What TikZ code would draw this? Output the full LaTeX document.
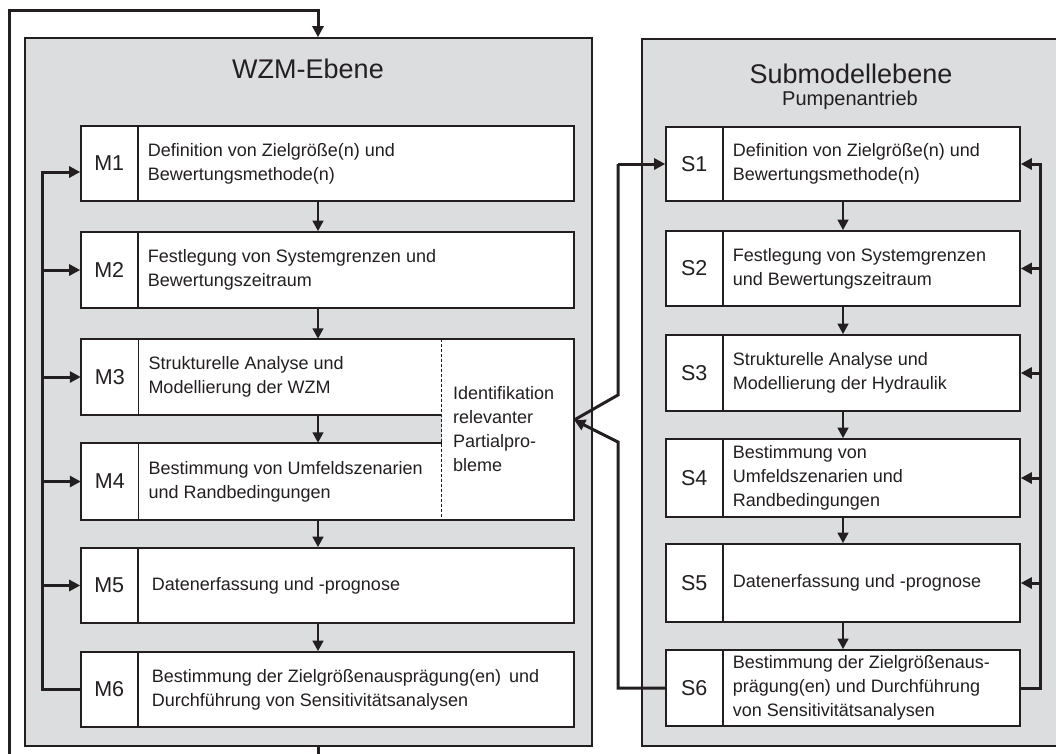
\documentclass[tikz,border=0pt]{standalone}
\usepackage{fontspec}
\setmainfont{Liberation Sans}
\usetikzlibrary{arrows.meta}
\definecolor{ink}{HTML}{231F20}
\definecolor{panelgray}{HTML}{DCDDDF}
\tikzset{
 panelbox/.style={draw=ink, fill=panelgray, line width=1.6pt, inner sep=0pt},
 pbox/.style={draw=ink, fill=white, line width=1.6pt, inner sep=0pt},
 pboxopen/.style={draw=none, fill=white, inner sep=0pt},
 boxline/.style={draw=ink, line width=1.6pt},
 lbl/.style={text=ink, font=\fontsize{21.5}{26}\selectfont, inner sep=0pt},
 txt/.style={text=ink, font=\fontsize{18}{24}\selectfont, align=left, inner sep=0pt, anchor=west},
 ttl/.style={text=ink, inner sep=0pt, anchor=base},
 flow/.style={draw=ink, line width=2.9pt, -{Triangle[length=10.5pt,width=10.5pt]}},
 fbarr/.style={draw=ink, line width=3pt, -{Triangle[length=11pt,width=11pt]}},
}
% [style] name label xl xr yt yb text
\newcommand\procbox[8][pbox]{%
 \node[#1, minimum width={#5-#4}, minimum height={#7-#6}] (#2) at ({(#4+#5)/2},{(#6+#7)/2}) {};
 \draw[boxline] ([xshift=57.5pt]#2.north west) -- ([xshift=57.5pt]#2.south west);
 \node[lbl] (#2l) at ([xshift=29pt]#2.west) {#3};
 \node[txt] (#2t) at ([xshift=67.5pt]#2.west) {#8};
}
\begin{document}
\begin{tikzpicture}[x=1pt,y=-1pt]
\useasboundingbox (0,0) rectangle (1056,753);
\clip (0,0) rectangle (1056,753);

% panels
\node[panelbox, minimum width=567, minimum height=708] (WZM) at (308.5,392) {};
\node[panelbox, minimum width=418, minimum height=707] (SUB) at (851,392.5) {};
\node[ttl, font=\fontsize{27}{32}\selectfont] (wzmT) at (308,78) {WZM-Ebene};
\node[ttl, font=\fontsize{27}{32}\selectfont] (subT) at (851,83) {Submodellebene};
\node[ttl, font=\fontsize{20}{24}\selectfont] (subP) at (850,105) {Pumpenantrieb};

% WZM boxes
\procbox{M1}{M1}{81}{574}{126}{201}{Definition von Zielgröße(n) und\\Bewertungsmethode(n)}
\procbox{M2}{M2}{81}{574}{232}{308}{Festlegung von Systemgrenzen und\\Bewertungszeitraum}
\node[pboxopen, minimum width=132, minimum height=181] (ID) at (508,429.5) {};
\procbox[pboxopen]{M3}{M3}{81}{442}{339}{415}{Strukturelle Analyse und\\Modellierung der WZM}
\procbox[pboxopen]{M4}{M4}{81}{442}{443}{520}{Bestimmung von Umfeldszenarien\\und Randbedingungen}
\draw[boxline] (M3.north east) -- (M3.north west) -- (M3.south west) -- (M3.south east);
\draw[boxline] (M4.north east) -- (M4.north west) -- (M4.south west) -- (M4.south east);
\draw[boxline] (ID.north west) -- (ID.north east) -- (ID.south east) -- (ID.south west);
\draw[draw=ink, line width=1.1pt, dash pattern=on 3pt off 2pt] (ID.north west) -- (ID.south west);
\node[txt] (IDt) at ([xshift=11pt]ID.west) {Identifikation\\relevanter\\Partialpro-\\bleme};
\procbox{M5}{M5}{81}{574}{548}{623}{\hspace{4pt}Datenerfassung und -prognose}
\procbox{M6}{M6}{81}{574}{652}{727}{\hspace{4pt}Bestimmung der Zielgrößenausprägung(en) \,und\\\hspace{4pt}Durchführung von Sensitivitätsanalysen}

% Submodel boxes
\procbox{S1}{S1}{666}{1020}{127}{201}{Definition von Zielgröße(n) und\\Bewertungsmethode(n)}
\procbox{S2}{S2}{666}{1020}{231}{306}{Festlegung von Systemgrenzen\\und Bewertungszeitraum}
\procbox{S3}{S3}{666}{1020}{335}{411}{Strukturelle Analyse und\\Modellierung der Hydraulik}
\procbox{S4}{S4}{666}{1020}{439}{517}{Bestimmung von\\Umfeldszenarien und\\Randbedingungen}
\procbox{S5}{S5}{666}{1020}{544}{622}{Datenerfassung und -prognose}
\procbox{S6}{S6}{666}{1020}{650}{726}{Bestimmung der Zielgrößenaus-\\prägung(en) und Durchführung\\von Sensitivitätsanalysen}

% flow arrows
\coordinate (axM) at (318,0);
\foreach \a/\b in {M1/M2,M2/M3,M3/M4,M4/M5,M5/M6}
  \draw[flow] (\a.south -| axM) -- (\b.north -| axM);
\foreach \a/\b in {S1/S2,S2/S3,S3/S4,S4/S5,S5/S6}
  \draw[flow] (\a.south) -- (\b.north);

% WZM feedback
\coordinate (fbL) at (42,172);
\draw[fbarr] (M6.west) -| (fbL) -- ([yshift=-8.5pt]M1.west);
\foreach \m in {M2,M3,M4,M5}
  \draw[fbarr] (fbL |- \m.west) -- (\m.west);

% Submodel right feedback
\coordinate (fbR) at (1040,164);
\draw[fbarr] (S6.east) -| (fbR) -- (S1.east);
\foreach \s in {S2,S3,S4,S5}
  \draw[fbarr] (fbR |- \s.east) -- (\s.east);

% Submodel <-> Identifikation
\coordinate (idtip) at ([yshift=9.5pt]ID.east);
\coordinate (kU) at (618,395);
\coordinate (kD) at (618,442);
\draw[draw=ink, line width=3pt] (idtip) -- (kU) -- (kU |- S1.west);
\draw[fbarr] (kU |- S1.west) -- (S1.west);
\draw[fbarr] (S6.west) -| (kD) -- (idtip);

% outer loop
\coordinate (oL) at (9,10);
\draw[fbarr] (WZM.south -| axM) -- ++(0,40) -| (oL) -| (WZM.north -| axM);
\end{tikzpicture}
\end{document}
